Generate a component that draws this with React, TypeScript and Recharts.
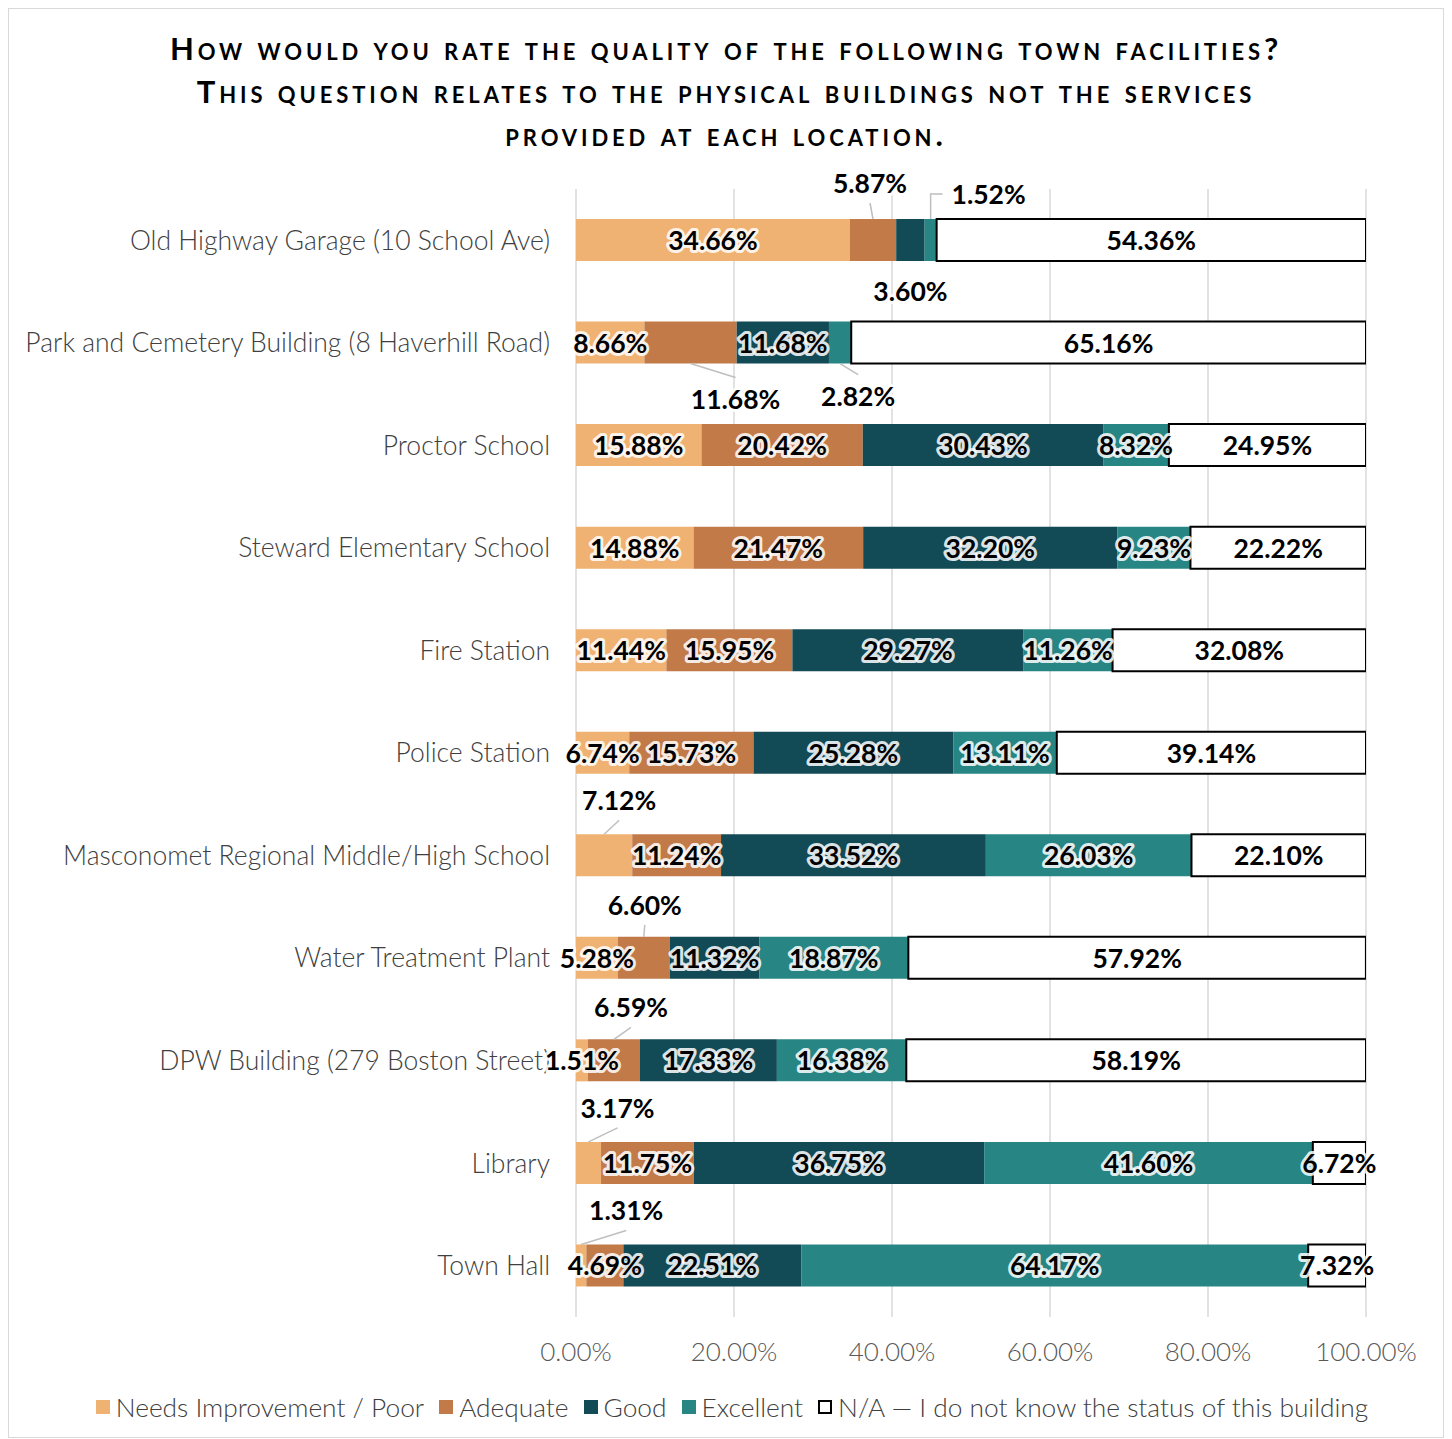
import { Bar, BarChart, CartesianGrid, LabelList, XAxis, YAxis } from "recharts";

const FACILITIES = [
  "Old Highway Garage (10 School Ave)",
  "Park and Cemetery Building (8 Haverhill Road)",
  "Proctor School",
  "Steward Elementary School",
  "Fire Station",
  "Police Station",
  "Masconomet Regional Middle/High School",
  "Water Treatment Plant",
  "DPW Building (279 Boston Street)",
  "Library",
  "Town Hall",
];

const NEEDS_IMPROVEMENT = [34.66, 8.66, 15.88, 14.88, 11.44, 6.74, 7.12, 5.28, 1.51, 3.17, 1.31];
const ADEQUATE = [5.87, 11.68, 20.42, 21.47, 15.95, 15.73, 11.24, 6.6, 6.59, 11.75, 4.69];
const GOOD = [3.6, 11.68, 30.43, 32.2, 29.27, 25.28, 33.52, 11.32, 17.33, 36.75, 22.51];
const EXCELLENT = [1.52, 2.82, 8.32, 9.23, 11.26, 13.11, 26.03, 18.87, 16.38, 41.6, 64.17];
const NOT_KNOWN = [54.36, 65.16, 24.95, 22.22, 32.08, 39.14, 22.1, 57.92, 58.19, 6.72, 7.32];

const X_TICKS = [0, 20, 40, 60, 80, 100];

const FONT = "Lato, 'Open Sans', sans-serif";
const TEXT_DARK = "#404040";

const SERIES = [
  { key: "poor", name: "Needs Improvement / Poor", values: NEEDS_IMPROVEMENT, color: "#EFB272" },
  { key: "adequate", name: "Adequate", values: ADEQUATE, color: "#C17A48" },
  { key: "good", name: "Good", values: GOOD, color: "#124A56" },
  { key: "excellent", name: "Excellent", values: EXCELLENT, color: "#278583" },
  { key: "na", name: "N/A \u2014 I do not know the status of this building", values: NOT_KNOWN, color: "#FFFFFF" },
];

// labels moved off small segments, offset from the segment centre
const CALLOUTS: Record<string, { dx: number; dy: number; line: "diag" | "elbow" | "none" }> = {
  "0-adequate": { dx: -3, dy: -57, line: "diag" },
  "0-good": { dx: 0, dy: 51, line: "none" },
  "0-excellent": { dx: 58, dy: -46, line: "elbow" },
  "1-adequate": { dx: 45, dy: 56, line: "diag" },
  "1-excellent": { dx: 18, dy: 53, line: "diag" },
  "6-poor": { dx: 15, dy: -55, line: "diag" },
  "7-adequate": { dx: 1, dy: -53, line: "diag" },
  "8-adequate": { dx: 17, dy: -53, line: "diag" },
  "9-poor": { dx: 29, dy: -55, line: "diag" },
  "10-poor": { dx: 45, dy: -55, line: "diag" },
};

const chartData = FACILITIES.map((name, i) => {
  const row: Record<string, string | number> = { name };
  SERIES.forEach((s) => {
    row[s.key] = s.values[i];
  });
  return row;
});

const makeLabel = (seriesKey: string) => (props: any) => {
  const { x, y, width, height, value, index } = props;
  const cx = Number(x) + Number(width) / 2;
  const cy = Number(y) + Number(height) / 2;
  const text = `${Number(value).toFixed(2)}%`;
  const callout = CALLOUTS[`${index}-${seriesKey}`];
  let lx = cx;
  let ly = cy;
  let leader = null;
  if (callout) {
    lx = cx + callout.dx;
    ly = cy + callout.dy;
    const above = callout.dy < 0;
    const edge = above ? Number(y) : Number(y) + Number(height);
    if (callout.line === "diag") {
      leader = <line x1={cx} y1={edge} x2={lx} y2={above ? ly + 20 : ly - 21} stroke="#BFBFBF" strokeWidth={1.5} />;
    } else if (callout.line === "elbow") {
      leader = (
        <polyline points={`${cx},${edge} ${cx},${ly} ${lx - 46},${ly}`} fill="none" stroke="#BFBFBF" strokeWidth={1.5} />
      );
    }
  }
  return (
    <g>
      {leader}
      <text
        x={lx}
        y={ly}
        textAnchor="middle"
        dominantBaseline="central"
        fontFamily={FONT}
        fontWeight={700}
        fontSize={26.5}
        fill="#000"
        stroke="#fff"
        strokeWidth={6}
        strokeOpacity={0.85}
        strokeLinejoin="round"
        paintOrder="stroke"
      >
        {text}
      </text>
    </g>
  );
};

const Legend = () => (
  <div
    style={{
      position: "absolute",
      top: 1383,
      left: 0,
      right: 0,
      paddingLeft: 12,
      display: "flex",
      justifyContent: "center",
      alignItems: "center",
      gap: 15,
      fontFamily: FONT,
      fontWeight: 300,
      fontSize: 26.3,
      lineHeight: "30px",
      color: TEXT_DARK,
    }}
  >
    {SERIES.map((s) => (
      <span key={s.key} style={{ display: "inline-flex", alignItems: "center", gap: 6 }}>
        <span
          style={{
            width: 14,
            height: 14,
            boxSizing: "border-box",
            background: s.color,
            border: s.key === "na" ? "2px solid #000" : "none",
          }}
        />
        {s.name}
      </span>
    ))}
  </div>
);

export default function App() {
  return (
    <div
      style={{
        position: "relative",
        width: 1436,
        height: 1430,
        boxSizing: "border-box",
        border: "1px solid #D9D9D9",
        background: "#fff",
      }}
    >
      <div
        style={{
          position: "absolute",
          top: 18,
          left: 0,
          right: 0,
          textAlign: "center",
          fontFamily: FONT,
          fontWeight: 700,
          fontSize: 31,
          lineHeight: "43px",
          fontVariant: "small-caps",
          letterSpacing: 3.9,
          color: "#000",
        }}
      >
        <div>How would you rate the quality of the following town facilities?</div>
        <div>This question relates to the physical buildings not the services</div>
        <div>provided at each location.</div>
      </div>
      <div style={{ position: "absolute", left: 0, top: 0 }}>
        <BarChart
          width={1434}
          height={1420}
          data={chartData}
          layout="vertical"
          margin={{ top: 180, right: 77, bottom: 72, left: 0 }}
          barSize={42}
        >
          <CartesianGrid horizontal={false} stroke="#D9D9D9" strokeWidth={1.5} />
          <XAxis
            type="number"
            domain={[0, 100]}
            ticks={X_TICKS}
            allowDataOverflow
            tickFormatter={(v: number) => `${v.toFixed(2)}%`}
            axisLine={false}
            tickLine={false}
            tickMargin={20}
            height={40}
            tick={{ fill: "#595959", fontSize: 26, fontWeight: 300, fontFamily: FONT }}
          />
          <YAxis
            type="category"
            dataKey="name"
            width={567}
            axisLine={false}
            tickLine={false}
            tickMargin={20}
            interval={0}
            tick={{ fill: TEXT_DARK, fontSize: 26.5, fontWeight: 300, fontFamily: FONT }}
          />
          {SERIES.map((s) => (
            <Bar
              key={s.key}
              dataKey={s.key}
              name={s.name}
              stackId="a"
              fill={s.color}
              stroke={s.key === "na" ? "#000" : "none"}
              strokeWidth={s.key === "na" ? 2 : 0}
              isAnimationActive={false}
            >
              <LabelList dataKey={s.key} content={makeLabel(s.key)} />
            </Bar>
          ))}
        </BarChart>
      </div>
      <Legend />
    </div>
  );
}
